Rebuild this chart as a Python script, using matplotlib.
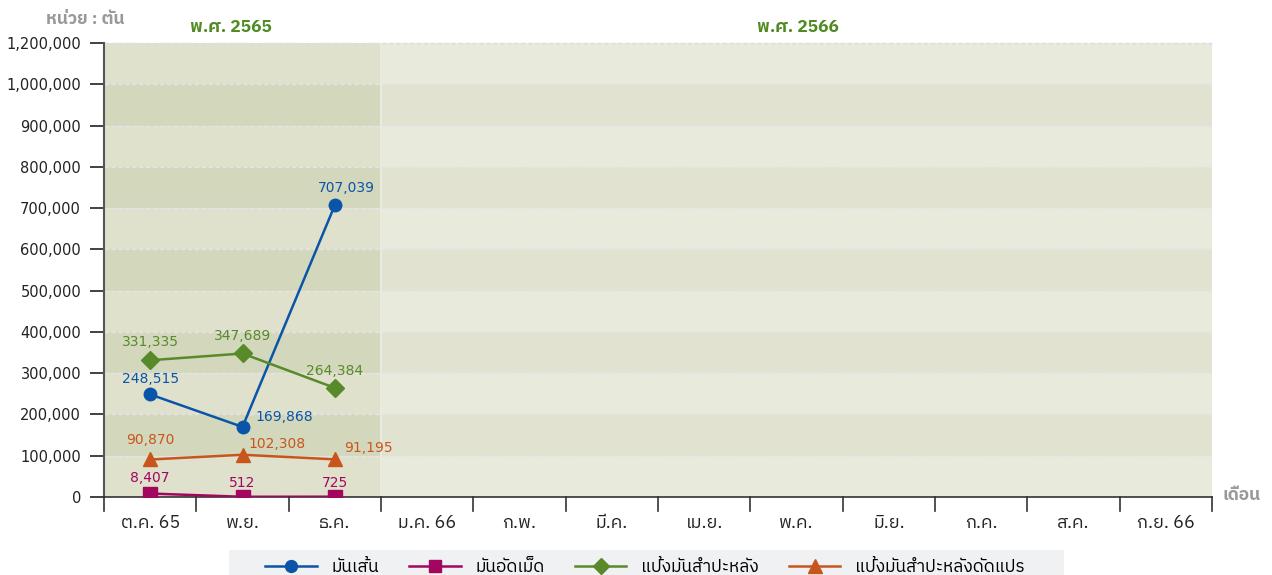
import numpy as np
import matplotlib.pyplot as plt
from matplotlib.patches import Rectangle

plt.rcParams['font.family'] = ['DejaVu Sans', 'IBM Plex Sans Thai', 'Noto Sans Thai', 'Anuphan']
thai_first = ['IBM Plex Sans Thai', 'Noto Sans Thai', 'DejaVu Sans']

# months on the x axis
months = ['ต.ค. 65', 'พ.ย.', 'ธ.ค.', 'ม.ค. 66', 'ก.พ.', 'มี.ค.', 'เม.ย.', 'พ.ค.', 'มิ.ย.', 'ก.ค.', 'ส.ค.', 'ก.ย. 66']

# series values (tons), only the first three months are reported
mun_sen = [248515, 169868, 707039]
mun_at_met = [8407, 512, 725]
paeng_mun = [331335, 347689, 264384]
paeng_dat_plae = [90870, 102308, 91195]

series_names = ['มันเส้น', 'มันอัดเม็ด', 'แป้งมันสำปะหลัง', 'แป้งมันสำปะหลังดัดแปร']

# y ticks as printed on the original (top label reads 1,200,000)
ytick_vals = [0, 100000, 200000, 300000, 400000, 500000, 600000, 700000, 800000, 900000, 1000000, 1100000]
ytick_labels = ['0', '100,000', '200,000', '300,000', '400,000', '500,000', '600,000', '700,000',
                '800,000', '900,000', '1,000,000', '1,200,000']

year_labels = ['พ.ศ. 2565', 'พ.ศ. 2566']

fig = plt.figure(figsize=(12.72, 5.75), dpi=100)
ax = fig.add_axes([104/1272, 78/575, 1108/1272, 454/575])

ax.set_xlim(-0.5, 11.5)
ax.set_ylim(0, 1100000)

# background bands: 2565 part is darker
for i in range(11):
    y0 = ytick_vals[i]
    dark = (i % 2 == 1)
    c_left = '#d3d7bc' if dark else '#dfe1cd'
    c_right = '#e1e3d0' if dark else '#e8eadb'
    ax.add_patch(Rectangle((-0.5, y0), 3, 100000, facecolor=c_left, edgecolor='none', zorder=0))
    ax.add_patch(Rectangle((2.5, y0), 9, 100000, facecolor=c_right, edgecolor='none', zorder=0))

ax.axvline(2.5, color='#e9ebdc', lw=1.5, zorder=1)
for v in ytick_vals[1:]:
    ax.axhline(v, color='#e4e4ea', lw=1, ls=(0, (3, 2)), zorder=1)

x = np.arange(3)
c_blue, c_mag, c_green, c_orange = '#0a55a8', '#a3065e', '#588a2a', '#c8561c'
styles = [
    (mun_sen, c_blue, 'o', 9),
    (mun_at_met, c_mag, 's', 9.5),
    (paeng_mun, c_green, 'D', 9),
    (paeng_dat_plae, c_orange, '^', 10),
]
for (vals, col, mk, ms), name in zip(styles, series_names):
    ax.plot(x, vals, color=col, lw=1.8, marker=mk, markersize=ms, label=name, zorder=3)

def lab(i, vals, col, dx=0, dy=16, ha='center'):
    ax.annotate(f'{vals[i]:,}', (i, vals[i]), xytext=(dx, dy), textcoords='offset pixels',
                ha=ha, va='center', color=col, fontsize=10)

lab(0, paeng_mun, c_green, dy=18)
lab(1, paeng_mun, c_green, dy=17)
lab(2, paeng_mun, c_green, dy=17)
lab(0, mun_sen, c_blue, dy=15)
lab(1, mun_sen, c_blue, dx=13, dy=10, ha='left')
lab(2, mun_sen, c_blue, dx=12, dy=17)
lab(0, paeng_dat_plae, c_orange, dy=19)
lab(1, paeng_dat_plae, c_orange, dx=6, dy=11, ha='left')
lab(2, paeng_dat_plae, c_orange, dx=9, dy=11, ha='left')
lab(0, mun_at_met, c_mag, dy=16)
lab(1, mun_at_met, c_mag, dy=14)
lab(2, mun_at_met, c_mag, dy=14)

ax.set_yticks(ytick_vals)
ax.set_yticklabels(ytick_labels, fontsize=10.5, color='#222222')
ax.tick_params(axis='y', length=10, width=1.3, color='#333333', pad=6.5)

ax.set_xticks(np.arange(12))
ax.set_xticklabels(months, fontsize=13, color='#222222', family=thai_first)
ax.tick_params(axis='x', length=0, pad=12)
for b in np.arange(-0.5, 12, 1):
    ax.plot([b, b], [0, -0.03], transform=ax.get_xaxis_transform(), color='#333333',
            lw=1.2, clip_on=False, zorder=4)

for s in ['top', 'right']:
    ax.spines[s].set_visible(False)
ax.spines['left'].set_color('#555555')
ax.spines['left'].set_linewidth(1.5)
ax.spines['bottom'].set_color('#333333')
ax.spines['bottom'].set_linewidth(1.2)
ax.axhline(1100000, color='#dddddd', lw=1, ls=(0, (3, 2)), zorder=1, clip_on=False)

ax.text(0.88, 1.035, year_labels[0], transform=ax.get_xaxis_transform(), ha='center', va='center',
        color='#4f8a22', fontsize=12.5, fontweight='bold', family=thai_first)
ax.text(7.02, 1.035, year_labels[1], transform=ax.get_xaxis_transform(), ha='center', va='center',
        color='#4f8a22', fontsize=12.5, fontweight='bold', family=thai_first)
fig.text(85/1272, 1 - 19/575, 'หน่วย : ตัน', ha='center', va='center', color='#999999',
         fontsize=12.5, fontweight='bold', family=thai_first)
fig.text(1242/1272, 1 - 495/575, 'เดือน', ha='center', va='center', color='#999999',
         fontsize=12.5, fontweight='bold', family=thai_first)

# legend background box, cut by the bottom of the image
fig.patches.append(Rectangle((229/1272, 0), (1064 - 229)/1272, 25/575, transform=fig.transFigure,
                             facecolor='#f0f1f3', edgecolor='none', zorder=0))
leg = fig.legend(loc='center', bbox_to_anchor=(645/1272, 1 - 567/575), ncol=4,
                 frameon=False, prop={'family': thai_first, 'size': 12.5},
                 handlelength=2.95, handletextpad=0.85, columnspacing=1.75,
                 borderpad=0, borderaxespad=0, markerscale=0.95)

fig.savefig('out.png', dpi=100)
